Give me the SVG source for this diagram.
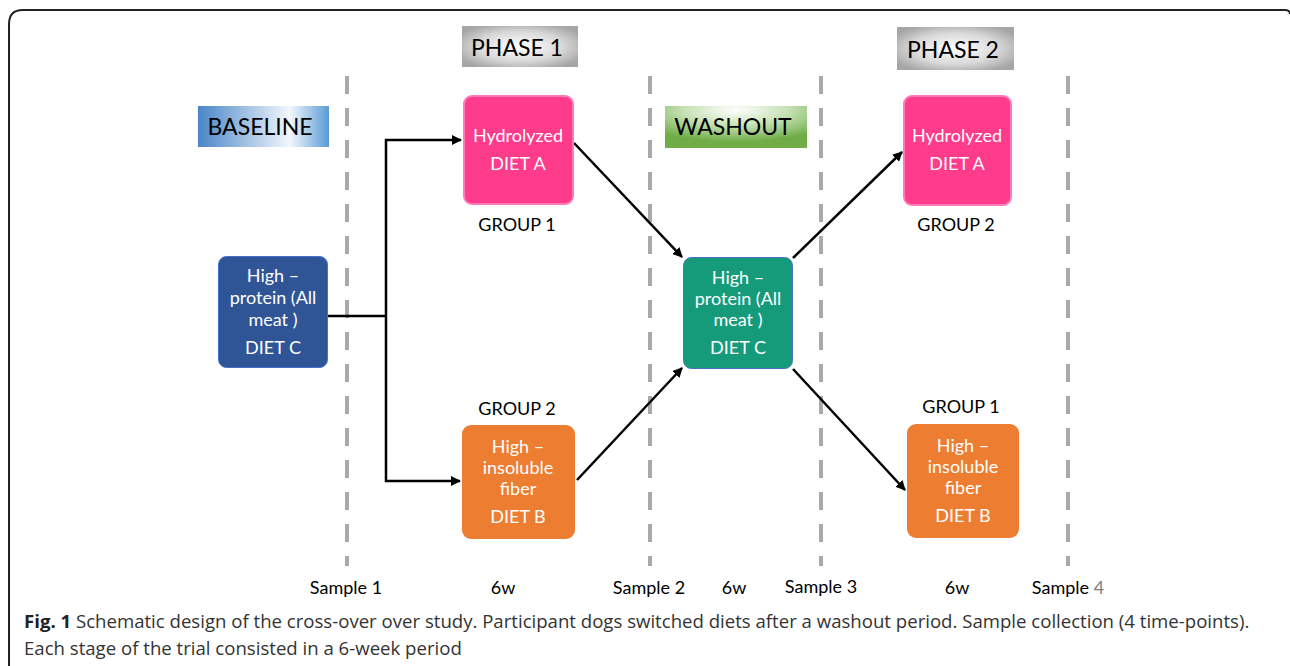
<svg xmlns="http://www.w3.org/2000/svg" width="1290" height="666" viewBox="0 0 1290 666">
<defs>
<radialGradient id="gGray" cx="0.5" cy="0.5" r="0.6">
<stop offset="0" stop-color="#ffffff"/><stop offset="0.6" stop-color="#d9d9d9"/><stop offset="1" stop-color="#a6a6a6"/>
</radialGradient>
<linearGradient id="gBlue" x1="0" y1="0" x2="1" y2="0">
<stop offset="0" stop-color="#4a86c8"/><stop offset="0.7" stop-color="#f2f7fc"/><stop offset="1" stop-color="#5b9bd5"/>
</linearGradient>
<radialGradient id="gGreen" cx="0.5" cy="0.1" r="0.75">
<stop offset="0" stop-color="#ffffff"/><stop offset="0.5" stop-color="#c5e0b4"/><stop offset="1" stop-color="#70ad47"/>
</radialGradient>
<marker id="ah" viewBox="0 0 10 10" refX="9" refY="5" markerWidth="4" markerHeight="4" orient="auto" markerUnits="strokeWidth">
<path d="M0,0 L10,5 L0,10 z" fill="#000"/>
</marker>
<style>
.dash{stroke:#aaaaaa;stroke-width:4;stroke-dasharray:18 14;fill:none}
.conn{stroke:#000;stroke-width:2.5;fill:none}
.arr{marker-end:url(#ah)}
.nt{font-family:Lato,"Open Sans",sans-serif;font-size:18px;fill:#fff;text-anchor:middle}
.lb{font-family:Lato,"Open Sans",sans-serif;font-size:18px;fill:#000;text-anchor:middle}
.hd{font-family:Lato,"Open Sans",sans-serif;font-size:23px;fill:#000;text-anchor:middle}
.cap{font-family:"Open Sans","Noto Sans",sans-serif;font-size:18.6px;fill:#333}
</style>
</defs>
<rect width="1290" height="666" fill="#fff"/>
<path d="M9,666 V24 Q9,10 23,10 H1285 Q1290,10 1290,14" fill="none" stroke="#222" stroke-width="2"/>

<g id="dividers">
<line class="dash" x1="347" y1="76" x2="347" y2="566"/>
<line class="dash" x1="650" y1="76" x2="650" y2="566"/>
<line class="dash" x1="821" y1="76" x2="821" y2="566"/>
<line class="dash" x1="1068" y1="76" x2="1068" y2="566"/>
</g>

<g id="headers">
<g id="baseline"><rect x="198" y="106" width="131" height="41" fill="url(#gBlue)"/><text class="hd" x="260" y="135">BASELINE</text></g>
<g id="phase1"><rect x="462" y="26" width="116" height="41" fill="url(#gGray)"/><text class="hd" x="517" y="56">PHASE 1</text></g>
<g id="washout"><rect x="665" y="106" width="142" height="42" fill="url(#gGreen)"/><text class="hd" x="733" y="135">WASHOUT</text></g>
<g id="phase2"><rect x="897" y="27" width="117" height="43" fill="url(#gGray)"/><text class="hd" x="953" y="58">PHASE 2</text></g>
</g>

<g id="connectors">
<polyline class="conn" points="327,316 386,316"/>
<polyline class="conn arr" points="386,316 386,140 461,140"/>
<polyline class="conn arr" points="386,316 386,481 460,481"/>
<line class="conn arr" x1="574" y1="143" x2="682" y2="257"/>
<line class="conn arr" x1="577" y1="480" x2="682" y2="368"/>
<line class="conn arr" x1="793" y1="258" x2="902" y2="152"/>
<line class="conn arr" x1="793" y1="369" x2="905" y2="490"/>
</g>

<g id="dietC0">
<rect x="218.5" y="256.5" width="109" height="111" rx="8" fill="#2f5597" stroke="#4472c4" stroke-width="1"/>
<text class="nt" x="273" y="282">High –</text><text class="nt" x="273" y="304">protein (All</text><text class="nt" x="273" y="326">meat )</text><text class="nt" x="273" y="354">DIET C</text>
</g>

<g id="dietA1">
<rect x="464" y="96" width="109" height="108" rx="8" fill="#ff3b8b" stroke="#ff7ab8" stroke-width="2"/>
<text class="nt" x="518" y="142">Hydrolyzed</text><text class="nt" x="518" y="170">DIET A</text>
</g>
<g id="group1a"><text class="lb" x="517" y="231">GROUP 1</text></g>

<g id="dietB1">
<rect x="462" y="425" width="113" height="114" rx="9" fill="#ed7d31"/>
<text class="nt" x="518" y="453">High –</text><text class="nt" x="518" y="474">insoluble</text><text class="nt" x="518" y="495">fiber</text><text class="nt" x="518" y="523">DIET B</text>
</g>
<g id="group2a"><text class="lb" x="517" y="415">GROUP 2</text></g>

<g id="dietC1">
<rect x="683.5" y="257.5" width="109" height="111" rx="8" fill="#169b7a" stroke="#4472c4" stroke-width="1"/>
<text class="nt" x="738" y="284">High –</text><text class="nt" x="738" y="305">protein (All</text><text class="nt" x="738" y="326">meat )</text><text class="nt" x="738" y="354">DIET C</text>
</g>

<g id="dietA2">
<rect x="904" y="96" width="107" height="109" rx="8" fill="#ff3b8b" stroke="#ff7ab8" stroke-width="2"/>
<text class="nt" x="957" y="142">Hydrolyzed</text><text class="nt" x="957" y="170">DIET A</text>
</g>
<g id="group2b"><text class="lb" x="956" y="231">GROUP 2</text></g>

<g id="dietB2">
<rect x="907" y="424" width="112" height="114" rx="9" fill="#ed7d31"/>
<text class="nt" x="963" y="452">High –</text><text class="nt" x="963" y="473">insoluble</text><text class="nt" x="963" y="494">fiber</text><text class="nt" x="963" y="522">DIET B</text>
</g>
<g id="group1b"><text class="lb" x="961" y="413">GROUP 1</text></g>

<g id="timeline">
<text class="lb" x="346" y="594">Sample 1</text>
<text class="lb" x="503" y="594">6w</text>
<text class="lb" x="649" y="594">Sample 2</text>
<text class="lb" x="734" y="594">6w</text>
<text class="lb" x="821" y="593">Sample 3</text>
<text class="lb" x="957" y="594">6w</text>
<text class="lb" x="1068" y="594">Sample <tspan fill="#808080">4</tspan></text>
</g>

<g id="caption">
<text class="cap" x="24" y="628"><tspan font-weight="bold" fill="#222">Fig. 1</tspan> Schematic design of the cross-over over study. Participant dogs switched diets after a washout period. Sample collection (4 time-points).</text>
<text class="cap" x="24" y="655">Each stage of the trial consisted in a 6-week period</text>
</g>
</svg>
